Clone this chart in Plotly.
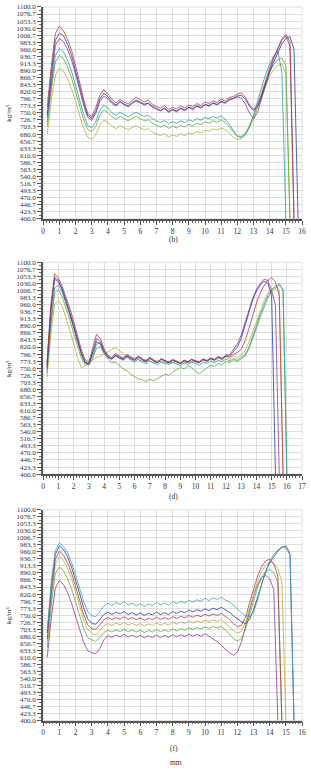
import plotly.graph_objects as go

# sampling positions (mm)
X_MM = [0.25, 0.5, 0.75, 1.0, 1.25, 1.5, 1.75, 2.0, 2.25, 2.5, 2.75, 3.0, 3.25, 3.5, 3.75, 4.0,
        4.25, 4.5, 4.75, 5.0, 5.25, 5.5, 5.75, 6.0, 6.25, 6.5, 6.75, 7.0, 7.25, 7.5, 7.75, 8.0,
        8.25, 8.5, 8.75, 9.0, 9.25, 9.5, 9.75, 10.0, 10.25, 10.5, 10.75, 11.0, 11.25, 11.5, 11.75, 12.0,
        12.25, 12.5, 12.75, 13.0, 13.25, 13.5, 13.75, 14.0, 14.25, 14.5, 14.75, 15.0, 15.25, 15.5, 15.75, 16.0, 16.25]

Y_TICKS = ["400.0", "423.3", "446.7", "470.0", "493.3", "516.7", "540.0", "563.3", "586.7", "610.0",
           "633.3", "656.7", "680.0", "703.3", "726.7", "750.0", "773.3", "796.7", "820.0", "843.3",
           "866.7", "890.0", "913.3", "936.7", "960.0", "983.3", "1006.7", "1030.0", "1053.3", "1076.7", "1100.0"]

# ---------------- panel (b) ----------------
B_RED = [770, 905, 1012, 1036, 1022, 993, 958, 908, 852, 795, 748, 738, 768, 808, 826, 812,
         795, 783, 794, 786, 779, 791, 801, 794, 786, 792, 779, 771, 766, 774, 761, 769,
         762, 773, 766, 776, 771, 781, 774, 786, 781, 790, 784, 796, 789, 801, 804, 812,
         816, 801, 776, 762, 777, 814, 858, 899, 934, 966, 994, 1010, 985, 400]
B_NAVY = [745, 880, 990, 1013, 1005, 978, 940, 892, 838, 784, 742, 732, 755, 796, 815, 803,
          786, 776, 788, 779, 772, 784, 792, 786, 779, 783, 772, 765, 758, 766, 755, 762,
          756, 766, 760, 769, 764, 774, 768, 778, 774, 783, 778, 789, 783, 795, 798, 806,
          808, 795, 772, 758, 770, 805, 846, 885, 918, 950, 978, 996, 1002, 960, 400]
B_PURPLE = [735, 865, 972, 995, 986, 960, 925, 878, 826, 775, 735, 726, 748, 788, 806, 796,
            781, 772, 785, 776, 770, 781, 789, 783, 776, 781, 769, 762, 757, 764, 752, 760,
            753, 764, 757, 767, 761, 772, 766, 777, 772, 782, 776, 786, 782, 792, 797, 803,
            798, 778, 750, 730, 752, 800, 848, 892, 930, 962, 990, 1004, 970, 400]
B_TEAL = [720, 845, 940, 962, 952, 925, 888, 842, 792, 745, 708, 700, 720, 758, 776, 766,
          750, 742, 752, 744, 737, 746, 752, 745, 738, 742, 731, 724, 718, 725, 714, 721,
          715, 724, 718, 727, 722, 731, 726, 735, 731, 739, 733, 740, 729, 712, 690, 672,
          668, 680, 705, 742, 790, 838, 878, 912, 938, 956, 885, 400]
B_GREEN = [705, 825, 918, 940, 930, 903, 866, 822, 772, 728, 695, 688, 705, 742, 760, 751,
           737, 729, 738, 731, 724, 732, 738, 731, 724, 727, 716, 709, 703, 710, 699, 706,
           700, 709, 703, 712, 707, 716, 711, 720, 716, 724, 719, 727, 718, 704, 686, 674,
           672, 684, 706, 738, 776, 818, 856, 888, 910, 926, 932, 905, 400]
B_OLIVE = [680, 790, 875, 897, 888, 864, 830, 790, 742, 700, 670, 662, 678, 710, 726, 718,
           705, 698, 707, 700, 694, 702, 707, 700, 694, 697, 686, 680, 675, 681, 670, 677,
           672, 680, 675, 684, 680, 688, 684, 692, 690, 697, 693, 700, 694, 683, 670, 662,
           664, 678, 700, 730, 766, 806, 842, 872, 893, 906, 912, 880, 400]

# ---------------- panel (d) ----------------
D_RED = [770, 960, 1062, 1048, 1020, 985, 948, 905, 858, 812, 778, 770, 818, 862, 848, 815,
         792, 786, 798, 790, 784, 796, 788, 780, 790, 782, 774, 786, 778, 770, 782, 776,
         770, 779, 772, 766, 777, 771, 780, 774, 770, 781, 776, 784, 779, 788, 782, 792,
         786, 796, 802, 812, 840, 880, 925, 965, 998, 1022, 1040, 1050, 1035, 990, 400]
D_NAVY = [760, 945, 1050, 1040, 1012, 975, 936, 892, 846, 802, 770, 765, 800, 838, 830, 802,
          785, 780, 792, 784, 779, 790, 783, 775, 786, 778, 770, 782, 774, 767, 779, 772,
          767, 776, 769, 764, 774, 768, 778, 771, 768, 778, 773, 781, 776, 786, 780, 790,
          790, 805, 820, 848, 890, 935, 975, 1005, 1025, 1038, 1030, 990, 400]
D_PURPLE = [750, 930, 1044, 1035, 1008, 970, 930, 886, 840, 798, 768, 763, 805, 848, 838, 808,
            788, 782, 794, 787, 781, 792, 785, 777, 788, 780, 772, 784, 776, 769, 781, 774,
            769, 778, 771, 766, 776, 770, 779, 773, 770, 780, 774, 783, 778, 788, 783, 793,
            795, 812, 830, 860, 900, 942, 980, 1010, 1030, 1044, 1040, 1005, 960, 400]
D_TEAL = [745, 905, 1015, 1025, 1000, 966, 928, 885, 840, 798, 768, 764, 790, 828, 836, 808,
          788, 780, 790, 782, 776, 786, 778, 770, 780, 772, 764, 775, 768, 761, 772, 766,
          762, 770, 764, 758, 768, 762, 771, 765, 760, 770, 766, 774, 768, 777, 772, 780,
          774, 782, 776, 786, 795, 818, 852, 890, 928, 962, 990, 1008, 1020, 1030, 1005, 400]
D_GREEN = [735, 890, 998, 1010, 985, 950, 910, 866, 822, 784, 762, 760, 782, 815, 822, 798,
           780, 768, 770, 758, 748, 742, 730, 722, 715, 712, 706, 714, 708, 716, 722, 730,
           726, 738, 745, 752, 748, 758, 752, 740, 732, 742, 752, 760, 756, 766, 762, 772,
           768, 778, 772, 782, 790, 812, 845, 882, 918, 952, 982, 1002, 1015, 1025, 1012, 400]
D_OLIVE = [720, 860, 962, 975, 955, 918, 875, 832, 785, 752, 758, 770, 778, 785, 790, 798,
           806, 812, 818, 808, 795, 786, 778, 785, 776, 770, 780, 772, 766, 776, 770, 764,
           772, 766, 775, 769, 764, 773, 768, 776, 770, 779, 773, 782, 776, 784, 778, 788,
           780, 790, 784, 794, 808, 835, 868, 905, 940, 972, 998, 1012, 1020, 1010, 400]

# ---------------- panel (f) ----------------
F_TEAL = [700, 860, 965, 990, 978, 958, 925, 885, 840, 795, 762, 748, 745, 762, 780, 790,
          782, 792, 786, 795, 784, 790, 780, 788, 779, 787, 782, 792, 784, 790, 783, 795,
          788, 796, 790, 800, 793, 801, 796, 806, 798, 808, 802, 810, 800, 795, 782, 770,
          758, 748, 745, 760, 800, 850, 895, 930, 952, 966, 978, 972, 950, 400]
F_NAVY = [690, 845, 952, 980, 968, 945, 910, 868, 822, 775, 738, 722, 720, 735, 752, 760,
          752, 760, 754, 762, 752, 758, 750, 757, 749, 756, 751, 760, 752, 758, 752, 762,
          756, 763, 758, 767, 761, 768, 763, 771, 765, 773, 768, 776, 768, 760, 748, 738,
          728, 722, 735, 768, 810, 855, 895, 925, 945, 962, 975, 980, 955, 400]
F_RED = [670, 820, 935, 962, 950, 925, 890, 848, 800, 752, 718, 705, 702, 718, 735, 742,
         735, 742, 737, 745, 736, 742, 735, 741, 733, 740, 735, 743, 736, 742, 736, 745,
         739, 746, 741, 749, 743, 750, 745, 753, 747, 754, 749, 756, 746, 736, 722, 712,
         716, 742, 790, 838, 880, 912, 930, 936, 920, 880, 400]
F_OLIVE = [660, 805, 918, 945, 933, 906, 872, 830, 782, 735, 702, 690, 684, 698, 715, 722,
           716, 723, 718, 726, 717, 723, 716, 722, 714, 721, 716, 724, 717, 723, 717, 726,
           720, 727, 722, 730, 724, 731, 726, 733, 728, 734, 729, 735, 725, 712, 698, 690,
           696, 725, 772, 820, 862, 895, 915, 925, 922, 905, 860, 400]
F_GREEN = [640, 780, 888, 910, 898, 872, 838, 796, 750, 705, 675, 668, 662, 676, 692, 700,
           694, 701, 696, 703, 695, 701, 694, 700, 692, 699, 694, 702, 695, 701, 695, 704,
           698, 705, 700, 708, 702, 709, 704, 711, 706, 712, 707, 713, 702, 688, 672, 664,
           672, 702, 750, 800, 842, 875, 895, 902, 890, 860, 400]
F_PURPLE = [610, 740, 840, 865, 852, 826, 790, 748, 702, 660, 632, 625, 622, 640, 668, 682,
            676, 684, 678, 686, 677, 684, 676, 683, 675, 682, 676, 684, 676, 683, 676, 685,
            678, 685, 679, 687, 680, 686, 680, 688, 680, 672, 662, 650, 638, 625, 617, 628,
            660, 712, 768, 815, 852, 875, 882, 870, 835, 400]

C_RED = "#b23a44"
C_NAVY = "#2b3d8f"
C_PURPLE = "#8b3b9e"
C_TEAL = "#2b9fa6"
C_LBLUE = "#3f9fbf"
C_GREEN = "#5ea83e"
C_OLIVE = "#b3ae3e"

panels = [
    ("b", 16, [(B_OLIVE, C_OLIVE), (B_GREEN, C_GREEN), (B_TEAL, C_TEAL),
               (B_PURPLE, C_PURPLE), (B_NAVY, C_NAVY), (B_RED, C_RED)]),
    ("d", 17, [(D_OLIVE, C_OLIVE), (D_GREEN, C_GREEN), (D_TEAL, C_TEAL),
               (D_PURPLE, C_PURPLE), (D_NAVY, C_NAVY), (D_RED, C_RED)]),
    ("f", 16, [(F_PURPLE, C_PURPLE), (F_GREEN, C_GREEN), (F_OLIVE, C_OLIVE),
               (F_RED, C_RED), (F_NAVY, C_NAVY), (F_TEAL, C_LBLUE)]),
]

H = 776.0
W = 311.0
# pixel extents (top, bottom) of each plot area
PIX = [(3, 217), (261, 475), (511, 724)]
X0, X1 = 42, 306

fig = go.Figure()
FONT = "Liberation Serif, Times New Roman, serif"
yvals = [float(t) for t in Y_TICKS]

layout = dict(width=311, height=776, autosize=False,
              margin=dict(l=0, r=0, t=0, b=0),
              paper_bgcolor="white", plot_bgcolor="white",
              showlegend=False, font=dict(family=FONT, size=7, color="#333333"))
annotations = []

for i, (lab, xmax, series) in enumerate(panels):
    n = "" if i == 0 else str(i + 1)
    for vals, col in series:
        fig.add_trace(go.Scatter(x=X_MM[:len(vals)], y=vals, mode="lines",
                                 line=dict(color=col, width=0.8),
                                 xaxis="x" + n, yaxis="y" + n, hoverinfo="skip"))
    top, bot = PIX[i]
    layout["xaxis" + n] = dict(domain=[X0 / W, X1 / W], range=[0, xmax], anchor="y" + n,
                               tickmode="linear", tick0=0, dtick=1,
                               showgrid=True, gridcolor="#dedede", gridwidth=0.8,
                               showline=True, linecolor="#555", linewidth=1.5,
                               ticks="outside", ticklen=4, tickcolor="#555", tickwidth=1,
                               minor=dict(ticks="outside", dtick=0.2, tick0=0, ticklen=2,
                                          tickcolor="#666", showgrid=False),
                               tickfont=dict(family=FONT, size=7.5, color="#333333"),
                               zeroline=False, fixedrange=True)
    layout["yaxis" + n] = dict(domain=[1 - bot / H, 1 - top / H], range=[400, 1100],
                               anchor="x" + n, tickmode="array", tickvals=yvals,
                               ticktext=Y_TICKS,
                               showgrid=True, gridcolor="#dedede", gridwidth=0.8,
                               showline=True, linecolor="#555", linewidth=2,
                               ticks="outside", ticklen=4, tickcolor="#555", tickwidth=1,
                               minor=dict(ticks="outside", dtick=700 / 60, tick0=400,
                                          ticklen=2, tickcolor="#666", showgrid=False),
                               tickfont=dict(family=FONT, size=7, color="#333333"),
                               zeroline=False, fixedrange=True)
    annotations.append(dict(text="kg/m³", x=7 / W, y=1 - (top + bot) / 2 / H,
                            xref="paper", yref="paper", textangle=-90, showarrow=False,
                            xanchor="center", yanchor="middle",
                            font=dict(family=FONT, size=7, color="#333333")))

LAB_Y = [238, 498, 752]
for (lab, _, _), ly in zip(panels, LAB_Y):
    annotations.append(dict(text="(" + lab + ")", x=175 / W, y=1 - ly / H, xref="paper",
                            yref="paper", showarrow=False, xanchor="center", yanchor="middle",
                            font=dict(family=FONT, size=7.5, color="#333333")))
annotations.append(dict(text="mm", x=177 / W, y=1 - 766 / H, xref="paper", yref="paper",
                        showarrow=False, xanchor="center", yanchor="middle",
                        font=dict(family=FONT, size=7.5, color="#333333")))
layout["annotations"] = annotations

shapes = []
for i, (top, bot) in enumerate(PIX):
    shapes.append(dict(type="rect", xref="paper", yref="paper", x0=X0 / W, x1=X1 / W,
                       y0=1 - bot / H, y1=1 - top / H, line=dict(color="#d8d8d8", width=0.8),
                       layer="below"))
layout["shapes"] = shapes

fig.update_layout(**layout)
fig.write_html("out.html")
